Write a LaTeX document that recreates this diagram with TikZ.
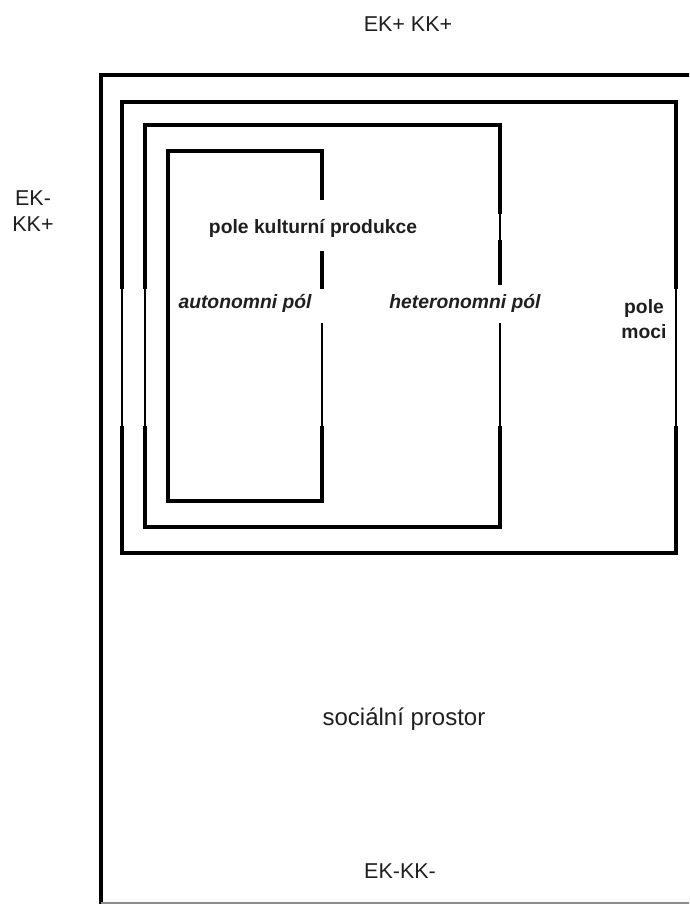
\documentclass[tikz,border=0pt]{standalone}
\usepackage{fontspec}
\setmainfont{Liberation Sans}
\begin{document}
\begin{tikzpicture}[x=1pt,y=-1pt,
  boxline/.style={line width=3.2pt, line cap=rect, line join=miter},
  innerline/.style={line width=3.8pt, line cap=rect, line join=miter},
  thinline/.style={line width=2.2pt},
  midline/.style={line width=2.8pt},
  lbl/.style={inner sep=0pt, anchor=base, text=black!88, font=\fontsize{21.5}{26}\selectfont},
  biglbl/.style={lbl, font=\fontsize{24}{28}\selectfont},
  blbl/.style={lbl, font=\fontsize{19.3}{26}\selectfont\bfseries},
  ilbl/.style={lbl, font=\fontsize{19.3}{26}\selectfont\bfseries\itshape}]
\useasboundingbox (0,0) rectangle (689,904);
\clip (0,0) rectangle (689,904);

% social space (outer box, running off the right edge)
\draw[boxline] (101,903) -- (101,75) -- (700,75);
\draw[line width=2.4pt, black!45] (101,903) -- (700,903);

% field of power
\draw[boxline] (122,287) -- (122,102) -- (676,102) -- (676,287);
\draw[boxline] (122,428) -- (122,553) -- (676,553) -- (676,428);
\draw[thinline] (122,287) -- (122,428);
\draw[thinline] (676,287) -- (676,428);

% field of cultural production
\draw[boxline] (145,287) -- (145,125) -- (500,125) -- (500,212);
\draw[thinline] (500,212) -- (500,242);
\draw[boxline] (500,242) -- (500,283);
\draw[thinline] (145,287) -- (145,428);
\draw[midline] (500,323) -- (500,428);
\draw[boxline] (145,428) -- (145,527) -- (500,527) -- (500,428);

% autonomous pole
\draw[innerline] (322,198) -- (322,151) -- (168,151) -- (168,501) -- (322,501) -- (322,428);
\draw[boxline] (322,253) -- (322,287);
\draw[midline] (322,323) -- (322,428);

% labels
\node[lbl] (ektop) at (408,32) {EK+ KK+};
\node[lbl] (ekleft1) at (33,205) {EK-};
\node[lbl] (ekleft2) at (33,231) {KK+};
\node[blbl] (pkp) at (313,233) {pole kulturní produkce};
\node[ilbl] (auton) at (245,308) {autonomni pól};
\node[ilbl] (heter) at (465,308) {heteronomni pól};
\node[blbl] (moci1) at (644,313) {pole};
\node[blbl] (moci2) at (644,338) {moci};
\node[biglbl] (soc) at (404,725) {sociální prostor};
\node[lbl] (ekbot) at (400,878) {EK-KK-};
\end{tikzpicture}
\end{document}
